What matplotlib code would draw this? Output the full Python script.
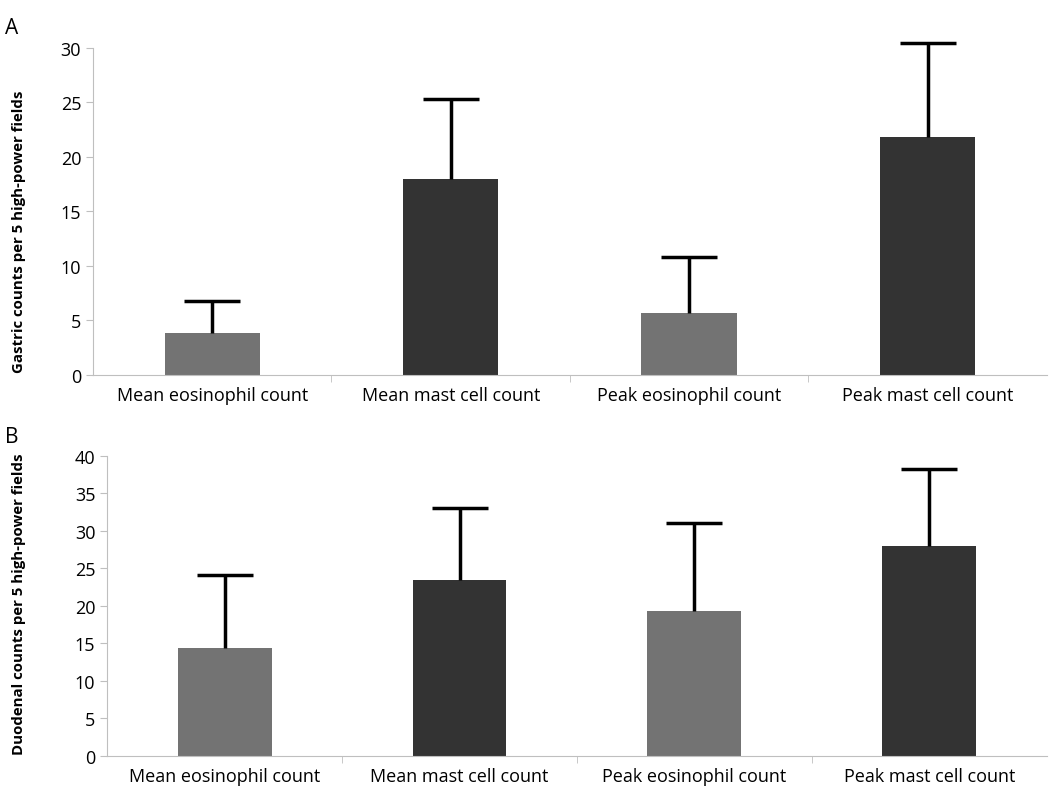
import matplotlib.pyplot as plt
import numpy as np

categories = ["Mean eosinophil count", "Mean mast cell count",
              "Peak eosinophil count", "Peak mast cell count"]
gastric = [3.8, 18.0, 5.7, 21.8]
gastric_err = [3.0, 7.3, 5.1, 8.7]
duodenal = [14.4, 23.5, 19.3, 28.0]
duodenal_err = [9.7, 9.6, 11.8, 10.3]
colors = ["#737373", "#333333", "#737373", "#333333"]

plt.rcParams["font.family"] = ["Open Sans", "DejaVu Sans"]

fig = plt.figure(figsize=(10.5, 8.03), dpi=100)
axA = fig.add_axes([0.0886, 0.532, 0.9084, 0.407])
axB = fig.add_axes([0.102, 0.0573, 0.895, 0.3736])


def draw(ax, vals, errs, ymax, label):
    x = np.arange(len(categories))
    ax.bar(x, vals, width=0.4, color=colors, zorder=2)
    eb = ax.errorbar(x, vals, yerr=[[0] * len(errs), errs], fmt="none",
                     ecolor="black", elinewidth=2.5, capsize=20, capthick=2.5, zorder=3)
    # only the upper cap, like the original
    eb[1][0].set_visible(False)
    for art in list(eb[1]) + list(eb[2]):
        art.set_clip_on(False)
    ax.set_xlim(-0.5, len(categories) - 0.5)
    ax.set_ylim(0, ymax)
    ax.set_yticks(range(0, ymax + 1, 5))
    ax.set_xticks(x)
    ax.set_xticklabels(categories, fontsize=13)
    ax.set_xticks([0.5, 1.5, 2.5], minor=True)
    ax.tick_params(axis="x", which="major", length=0, pad=8)
    ax.tick_params(axis="x", which="minor", length=5, color="#bfbfbf")
    ax.tick_params(axis="y", labelsize=13, length=5, color="#bfbfbf")
    for s in ["top", "right"]:
        ax.spines[s].set_visible(False)
    for s in ["left", "bottom"]:
        ax.spines[s].set_color("#bfbfbf")
    ax.set_ylabel(label, fontsize=10.8, fontweight="bold")


draw(axA, gastric, gastric_err, 30, "Gastric counts per 5 high-power fields")
draw(axB, duodenal, duodenal_err, 40, "Duodenal counts per 5 high-power fields")
axA.yaxis.set_label_coords(-0.07, 0.44)
axB.yaxis.set_label_coords(-0.086, 0.51)

fig.text(0.005, 0.965, "A", fontsize=15, va="center")
fig.text(0.005, 0.455, "B", fontsize=15, va="center")

fig.savefig("out.png", dpi=100)
